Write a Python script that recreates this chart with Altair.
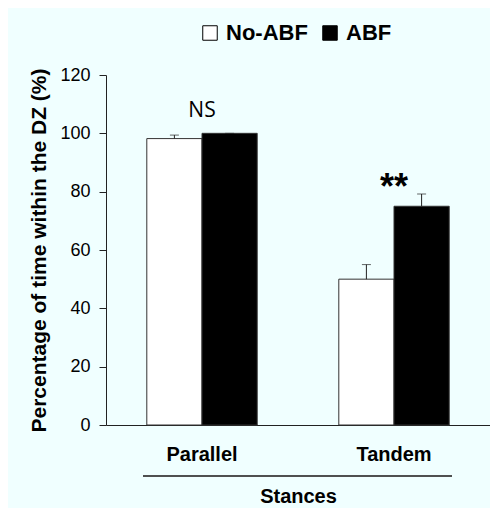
import altair as alt
import pandas as pd

stance = ["Parallel", "Parallel", "Tandem", "Tandem"]
group = ["No-ABF", "ABF", "No-ABF", "ABF"]
mean = [98.2, 100.0, 50.0, 75.0]
upper = [99.4, 100.0, 55.0, 79.2]

notes_stance = ["Parallel", "Tandem"]
notes_text = ["NS", "**"]
notes_top = [100.0, 79.2]

df = pd.DataFrame({"stance": stance, "group": group, "mean": mean, "upper": upper})
notes = pd.DataFrame({"stance": notes_stance, "text": notes_text, "top": notes_top})

FONT = "Liberation Sans"
AX = "#222222"

x = alt.X("stance:N", sort=["Parallel", "Tandem"],
          scale=alt.Scale(paddingInner=0.425, paddingOuter=0.2125),
          axis=alt.Axis(title="Stances", labelAngle=0, ticks=False, labelPadding=19,
                        labelFont=FONT, labelFontSize=20, labelFontWeight="bold",
                        labelColor="black", titleFont=FONT, titleFontSize=20,
                        titleFontWeight="bold", titleColor="black", titlePadding=22,
                        domainColor=AX, domainWidth=1.2))
xo = alt.XOffset("group:N", sort=["No-ABF", "ABF"], scale=alt.Scale(paddingInner=0, paddingOuter=0))
y = alt.Y("mean:Q", scale=alt.Scale(domain=[0, 120]),
          axis=alt.Axis(title="Percentage of time within the DZ (%)", values=[0, 20, 40, 60, 80, 100, 120],
                        grid=False, tickSize=7, tickColor=AX, domainColor=AX, labelPadding=9,
                        labelFont=FONT, labelFontSize=18, labelColor="black",
                        titleFont=FONT, titleFontSize=21, titleFontWeight="bold",
                        titleColor="black", titlePadding=10))

base = alt.Chart(df)

bars = base.mark_bar(stroke="#333333", strokeWidth=1).encode(
    x=x, xOffset=xo, y=y,
    fill=alt.Fill("group:N", sort=["No-ABF", "ABF"],
                  scale=alt.Scale(domain=["No-ABF", "ABF"], range=["white", "black"]),
                  legend=alt.Legend(title=None, orient="none", legendX=93, legendY=-53,
                                    direction="horizontal", symbolType="square", symbolSize=210,
                                    symbolStrokeColor="black", symbolStrokeWidth=1,
                                    labelFont=FONT, labelFontSize=22, labelFontWeight="bold",
                                    labelColor="black", labelOffset=5, columnPadding=11,
                                    padding=0)),
)

err = base.mark_rule(color="#222222", strokeWidth=1).encode(
    x=x, xOffset=xo, y="mean:Q", y2="upper:Q")
caps = base.mark_tick(color="#222222", orient="horizontal", size=9, thickness=1).encode(
    x=x, xOffset=xo, y="upper:Q")

ns = alt.Chart(notes).transform_filter(alt.datum.text == "NS").mark_text(
    font="Open Sans", fontSize=21, color="black", baseline="alphabetic", dy=-16).encode(
    x=alt.X("stance:N", sort=["Parallel", "Tandem"]), y="top:Q", text="text:N")
stars = alt.Chart(notes).transform_filter(alt.datum.text == "**").mark_text(
    font=FONT, fontSize=36, fontWeight="bold", color="black", baseline="alphabetic", dy=5).encode(
    x=alt.X("stance:N", sort=["Parallel", "Tandem"]), y="top:Q", text="text:N")

line = alt.Chart(notes).mark_rule(color="#444444", strokeWidth=1.5).encode(
    x=alt.value(37), x2=alt.value(346), y=alt.value(401))

chart = alt.layer(bars, err, caps, ns, stars, line).properties(
    width=384, height=350,
    autosize=alt.AutoSizeParams(type="none"),
    padding={"left": 98, "top": 67, "right": 0, "bottom": 83},
    background="#F0FFFF",
).configure_view(stroke=None)

chart.save("out.html", embed_options={"renderer": "svg", "actions": False})
